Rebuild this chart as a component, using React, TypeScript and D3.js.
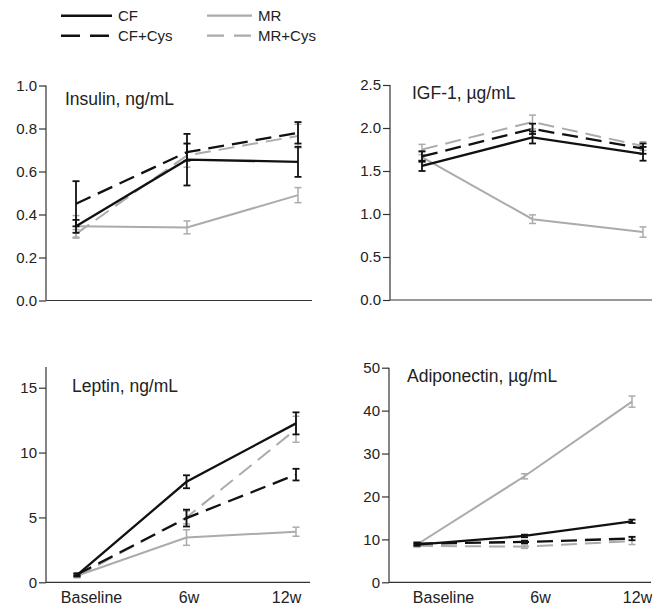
import React, { useEffect, useRef } from 'react';
import * as d3 from 'd3';

// time points on the x axis
const timepoints = ['Baseline', '6w', '12w'];
const groups = ['CF', 'CF+Cys', 'MR', 'MR+Cys'];

// Insulin, ng/mL
const insulinCF = [0.345, 0.655, 0.645];
const insulinCFErr = [0.03, 0.12, 0.07];
const insulinCFCys = [0.45, 0.69, 0.78];
const insulinCFCysErr = [0.105, 0.04, 0.05];
const insulinMR = [0.345, 0.34, 0.49];
const insulinMRErr = [0.05, 0.03, 0.035];
const insulinMRCys = [0.31, 0.675, 0.765];
const insulinMRCysErr = [0.02, 0.055, 0.055];

// IGF-1, µg/mL
const igfCF = [1.56, 1.89, 1.7];
const igfCFErr = [0.06, 0.07, 0.08];
const igfCFCys = [1.67, 1.99, 1.76];
const igfCFCysErr = [0.06, 0.06, 0.06];
const igfMR = [1.66, 0.94, 0.79];
const igfMRErr = [0.06, 0.05, 0.06];
const igfMRCys = [1.75, 2.07, 1.79];
const igfMRCysErr = [0.06, 0.08, 0.05];

// Leptin, ng/mL
const leptinCF = [0.55, 7.75, 12.25];
const leptinCFErr = [0.1, 0.5, 0.85];
const leptinCFCys = [0.6, 4.95, 8.3];
const leptinCFCysErr = [0.1, 0.65, 0.45];
const leptinMR = [0.5, 3.45, 3.9];
const leptinMRErr = [0.1, 0.6, 0.35];
const leptinMRCys = [0.45, 5.0, 11.8];
const leptinMRCysErr = [0.1, 0.5, 1.0];

// Adiponectin, µg/mL
const adipoCF = [8.8, 10.8, 14.2];
const adipoCFErr = [0.3, 0.3, 0.4];
const adipoCFCys = [9.0, 9.4, 10.2];
const adipoCFCysErr = [0.3, 0.3, 0.4];
const adipoMR = [8.8, 24.7, 42.1];
const adipoMRErr = [0.3, 0.6, 1.3];
const adipoMRCys = [8.5, 8.3, 9.6];
const adipoMRCysErr = [0.3, 0.4, 0.8];

// y ticks
const insulinTicks = [0, 0.2, 0.4, 0.6, 0.8, 1.0];
const igfTicks = [0, 0.5, 1.0, 1.5, 2.0, 2.5];
const leptinTicks = [0, 5, 10, 15];
const adipoTicks = [0, 10, 20, 30, 40, 50];

const FONT = '"Liberation Sans", Arial, Helvetica, sans-serif';
const BLACK = '#111';
const GRAY = '#ababab';

const styles: Record<string, { color: string; dash: string | null; width: number }> = {
  'CF': { color: BLACK, dash: null, width: 2.3 },
  'CF+Cys': { color: BLACK, dash: '16,8', width: 2.3 },
  'MR': { color: GRAY, dash: null, width: 2 },
  'MR+Cys': { color: GRAY, dash: '16,8', width: 2 },
};

const panels = [
  {
    title: 'Insulin, ng/mL', titleX: 65, titleY: 105,
    axisX: 46, xEnd: 312, y0: 300.5, yTop: 85.5, axisTop: 85.5,
    domain: [0, 1], ticks: insulinTicks, fmt: '.1f',
    points: [76, 298], labels: null as null | number[],
    series: [insulinCF, insulinCFCys, insulinMR, insulinMRCys],
    errors: [insulinCFErr, insulinCFCysErr, insulinMRErr, insulinMRCysErr],
  },
  {
    title: 'IGF-1, µg/mL', titleX: 412, titleY: 99,
    axisX: 390, xEnd: 652, y0: 300, yTop: 85, axisTop: 85,
    domain: [0, 2.5], ticks: igfTicks, fmt: '.1f',
    points: [422, 643], labels: null as null | number[],
    series: [igfCF, igfCFCys, igfMR, igfMRCys],
    errors: [igfCFErr, igfCFCysErr, igfMRErr, igfMRCysErr],
  },
  {
    title: 'Leptin, ng/mL', titleX: 72, titleY: 392,
    axisX: 46, xEnd: 310, y0: 582.3, yTop: 387.7, axisTop: 367,
    domain: [0, 15], ticks: leptinTicks, fmt: 'd',
    points: [77, 296], labels: [91, 286],
    series: [leptinCF, leptinCFCys, leptinMR, leptinMRCys],
    errors: [leptinCFErr, leptinCFCysErr, leptinMRErr, leptinMRCysErr],
  },
  {
    title: 'Adiponectin, µg/mL', titleX: 407, titleY: 382,
    axisX: 389, xEnd: 651, y0: 582.3, yTop: 367.7, axisTop: 367.7,
    domain: [0, 50], ticks: adipoTicks, fmt: 'd',
    points: [417, 632], labels: [443, 637],
    series: [adipoCF, adipoCFCys, adipoMR, adipoMRCys],
    errors: [adipoCFErr, adipoCFCysErr, adipoMRErr, adipoMRCysErr],
  },
];

const App: React.FC = () => {
  const svgRef = useRef<SVGSVGElement>(null);

  useEffect(() => {
    if (!svgRef.current) return;
    const svg = d3.select(svgRef.current);
    svg.selectAll('*').remove();

    panels.forEach(p => {
      const g = svg.append('g');
      const x = d3.scalePoint<string>().domain(timepoints).range(p.points as [number, number]);
      const y = d3.scaleLinear().domain(p.domain).range([p.y0, p.yTop]);

      // y axis
      const yAxis = d3.axisLeft(y)
        .tickValues(p.ticks)
        .tickSize(7)
        .tickPadding(2)
        .tickFormat(d3.format(p.fmt) as any);
      const ya = g.append('g')
        .attr('transform', `translate(${p.axisX},0)`)
        .call(yAxis);
      ya.select('.domain').remove();
      ya.selectAll('line').attr('stroke', '#333').attr('stroke-width', 1.2);
      ya.selectAll('text')
        .style('font-family', FONT)
        .style('font-size', '15px')
        .attr('fill', '#222');

      g.append('line')
        .attr('x1', p.axisX).attr('x2', p.axisX)
        .attr('y1', p.axisTop).attr('y2', p.y0)
        .attr('stroke', '#333').attr('stroke-width', 1.2);
      g.append('line')
        .attr('x1', p.axisX).attr('x2', p.xEnd)
        .attr('y1', p.y0).attr('y2', p.y0)
        .attr('stroke', '#333').attr('stroke-width', 1.2);

      // x labels only on bottom row
      if (p.labels) {
        const xl = d3.scalePoint<string>().domain(timepoints).range(p.labels as [number, number]);
        const xa = g.append('g')
          .attr('transform', `translate(0,${p.y0})`)
          .call(d3.axisBottom(xl).tickSize(0));
        xa.select('.domain').remove();
        xa.selectAll('text')
          .attr('y', 20.5)
          .attr('dy', 0)
          .style('font-family', FONT)
          .style('font-size', '16px')
          .attr('fill', '#222');
      }

      // title
      g.append('text')
        .attr('x', p.titleX)
        .attr('y', p.titleY)
        .style('font-family', FONT)
        .style('font-size', '17.5px')
        .attr('fill', '#222')
        .text(p.title);

      // series: gray first, black on top
      const order = [3, 2, 1, 0];
      order.forEach(si => {
        const st = styles[groups[si]];
        const vals = p.series[si];
        const errs = p.errors[si];
        const data = timepoints.map((t, i) => ({ t, v: vals[i], e: errs[i] }));

        // error bars
        data.forEach(d => {
          const cx = x(d.t) as number;
          const eg = g.append('g')
            .attr('stroke', st.color)
            .attr('stroke-width', st.color === BLACK ? 1.8 : 1.5);
          eg.append('line')
            .attr('x1', cx).attr('x2', cx)
            .attr('y1', y(d.v - d.e)).attr('y2', y(d.v + d.e));
          [d.v - d.e, d.v + d.e].forEach(ev => {
            eg.append('line')
              .attr('x1', cx - 3.5).attr('x2', cx + 3.5)
              .attr('y1', y(ev)).attr('y2', y(ev));
          });
        });

        const line = d3.line<{ t: string; v: number }>()
          .x(d => x(d.t) as number)
          .y(d => y(d.v));
        g.append('path')
          .datum(data)
          .attr('d', line)
          .attr('fill', 'none')
          .attr('stroke', st.color)
          .attr('stroke-width', st.width)
          .attr('stroke-dasharray', st.dash);
      });
    });

    // legend
    const legendPos = [
      { x: 61, y: 15.7 },
      { x: 61, y: 35.7 },
      { x: 207, y: 15.7 },
      { x: 207, y: 35.7 },
    ];
    groups.forEach((name, i) => {
      const st = styles[name];
      const pos = legendPos[i];
      const len = st.color === BLACK ? 51 : 45;
      svg.append('line')
        .attr('x1', pos.x).attr('x2', pos.x + len)
        .attr('y1', pos.y).attr('y2', pos.y)
        .attr('stroke', st.color)
        .attr('stroke-width', st.color === BLACK ? 2.6 : 2.3)
        .attr('stroke-dasharray', st.dash ? (st.color === BLACK ? '19,10' : '17,10') : null);
      svg.append('text')
        .attr('x', pos.x + len + 6)
        .attr('y', pos.y + 5)
        .style('font-family', FONT)
        .style('font-size', '15px')
        .attr('fill', '#222')
        .text(name);
    });
  }, []);

  return (
    <svg
      ref={svgRef}
      width={652}
      height={609}
      style={{ position: 'absolute', left: 0, top: 0, background: '#fff' }}
    />
  );
};

export default App;
